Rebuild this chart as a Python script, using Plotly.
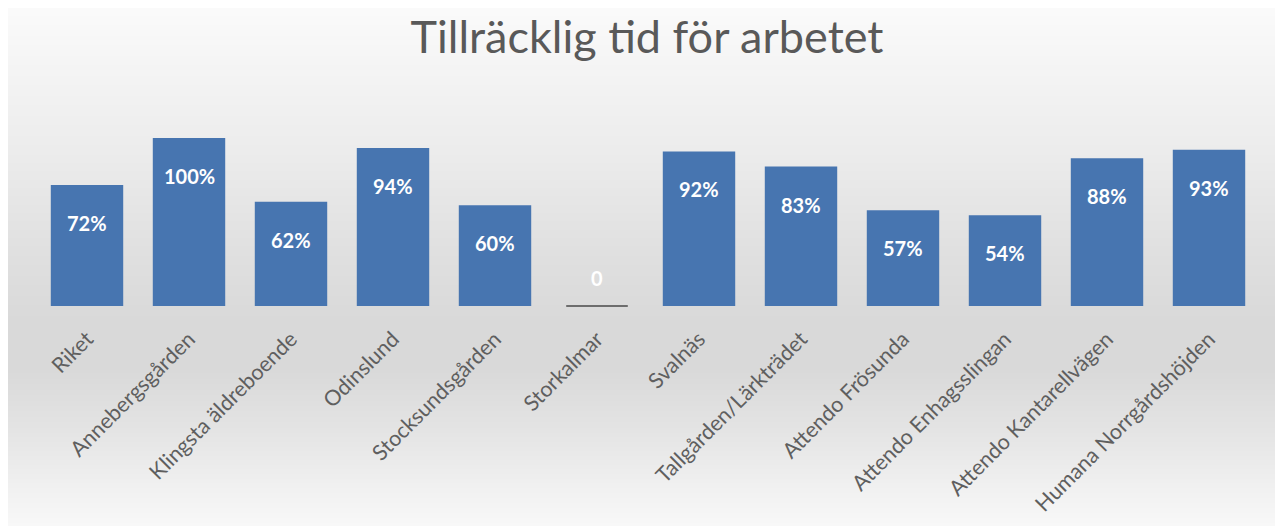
import base64, struct, zlib
import plotly.graph_objects as go

# ---- data ----
categories = ["Riket", "Annebergsgården", "Klingsta äldreboende", "Odinslund",
              "Stocksundsgården", "Storkalmar", "Svalnäs", "Tallgården/Lärkträdet",
              "Attendo Frösunda", "Attendo Enhagsslingan", "Attendo Kantarellvägen",
              "Humana Norrgårdshöjden"]
values = [0.72, 1.00, 0.62, 0.94, 0.60, 0, 0.92, 0.83, 0.57, 0.54, 0.88, 0.93]
labels = ["72%", "100%", "62%", "94%", "60%", "0", "92%", "83%", "57%", "54%", "88%", "93%"]
title_text = "Tillräcklig tid för arbetet"

OFF = 8                      # page body margin
W, H = 1283 - OFF, 526 - OFF
ML, MR, MT, MB = 28, 23, 130, 220
PW, PH = W - ML - MR, H - MT - MB

# ---- background gradient image (vertical grey ramp, page pixel rows) ----
PAGE_H = 526
stops = [(0, 251), (60, 245), (150, 236), (250, 224), (320, 217), (370, 217),
         (430, 228), (485, 240), (525, 248)]
def interp(y):
    for (y0, v0), (y1, v1) in zip(stops, stops[1:]):
        if y0 <= y <= y1:
            return int(round(v0 + (v1 - v0) * (y - y0) / (y1 - y0)))
    return stops[-1][1]
rows = b"".join(b"\x00" + bytes([interp(y)]) for y in range(PAGE_H))
def chunk(tag, data):
    c = tag + data
    return struct.pack(">I", len(data)) + c + struct.pack(">I", zlib.crc32(c) & 0xffffffff)
png = (b"\x89PNG\r\n\x1a\n" + chunk(b"IHDR", struct.pack(">IIBBBBB", 1, PAGE_H, 8, 0, 0, 0, 0))
       + chunk(b"IDAT", zlib.compress(rows)) + chunk(b"IEND", b""))
img_src = "data:image/png;base64," + base64.b64encode(png).decode()

# image spans page x 7..1283, y 0..526  -> figure coords
bx0 = (7 - OFF - ML) / PW
bx1 = (1283 - OFF - ML) / PW
by_top = (H - MB - (0 - OFF)) / PH
by_bot = (H - MB - (PAGE_H - OFF)) / PH

fig = go.Figure()
fig.add_trace(go.Bar(
    x=categories, y=values,
    marker=dict(color="#4775b0", line=dict(width=0)),
    width=0.71, hoverinfo="x+y",
))
# zero-value marker line (Storkalmar)
zx = [c for c, v in zip(categories, values) if v == 0]
zy = [v for v in values if v == 0]
fig.add_trace(go.Scatter(
    x=zx, y=zy, mode="markers", cliponaxis=False,
    marker=dict(symbol="line-ew-open", size=44, color="black",
                line=dict(color="black", width=1.2)),
    hoverinfo="skip",
))

for c, v, t in zip(categories, values, labels):
    fig.add_annotation(x=c, y=v, text=t, showarrow=False,
                       yshift=(-38 if v > 0 else 28), yanchor="middle",
                       font=dict(family="Lato", size=20, color="white", weight="bold"))

fig.update_layout(
    width=W, height=H,
    margin=dict(l=ML, r=MR, t=MT, b=MB, autoexpand=False),
    paper_bgcolor="white", plot_bgcolor="rgba(0,0,0,0)",
    showlegend=False,
    title=dict(text=title_text, x=(647 - OFF) / W, xref="container", xanchor="center",
               y=1 - 29 / H, yref="container", yanchor="middle",
               font=dict(family="Lato", size=45, color="#595959")),
    xaxis=dict(type="category", tickangle=-45, showgrid=False, showline=False, zeroline=False,
               ticks="outside", ticklen=11, tickcolor="rgba(0,0,0,0)",
               tickfont=dict(family="Lato", size=21.5, color="#5f5f5f"),
               range=[-0.5, len(categories) - 0.5]),
    yaxis=dict(range=[0, 1], visible=False, showgrid=False, zeroline=False),
    bargap=0.29,
    images=[dict(source=img_src, xref="paper", yref="paper", x=bx0, y=by_top,
                 sizex=bx1 - bx0, sizey=by_top - by_bot, sizing="stretch",
                 xanchor="left", yanchor="top", layer="below")],
)

fig.write_html("out.html")
